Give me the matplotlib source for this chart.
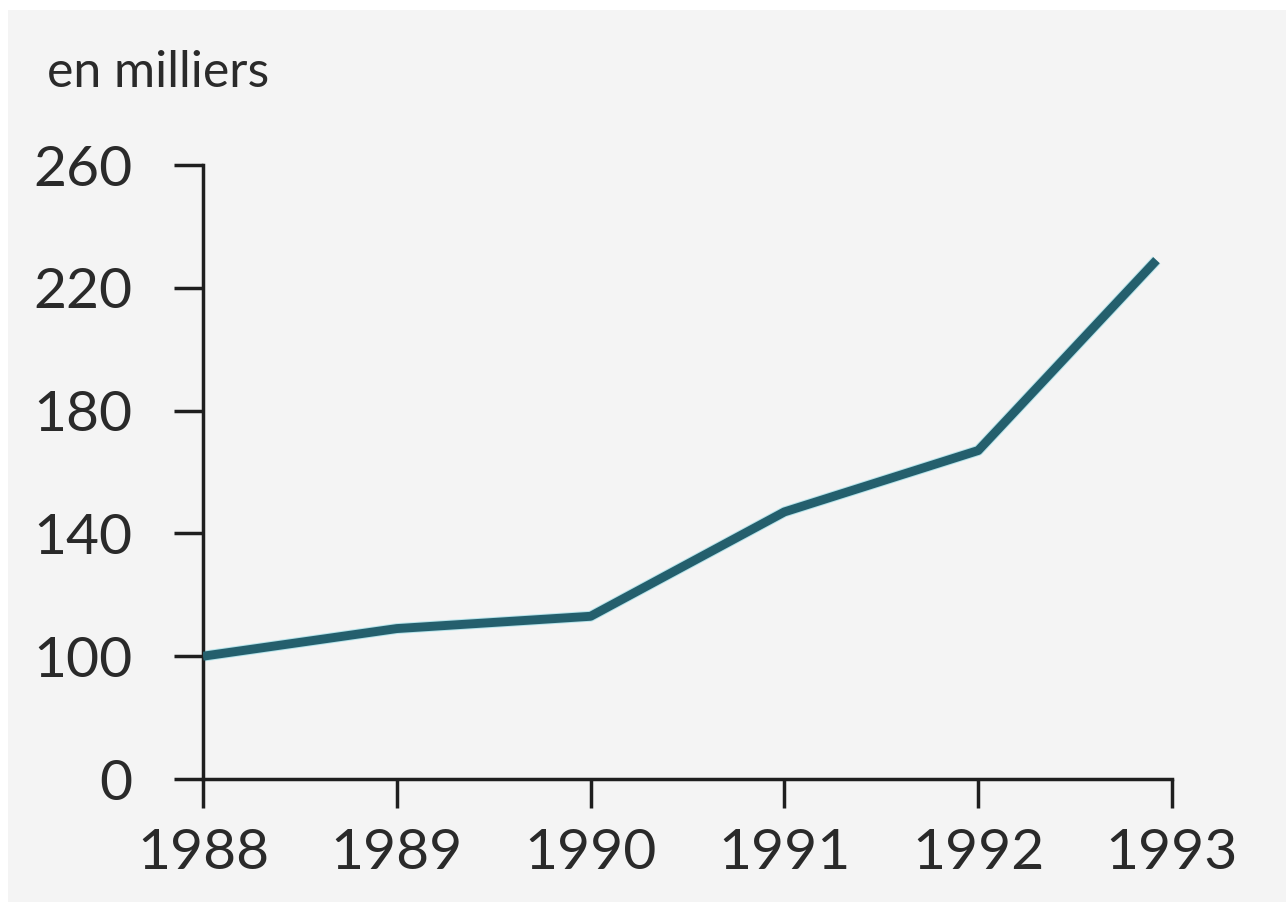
import numpy as np
import matplotlib
matplotlib.use("Agg")
import matplotlib.pyplot as plt
from matplotlib.patches import Rectangle

# data, thousands
years = [1988, 1989, 1990, 1991, 1992, 1992.92]
values = [100, 109, 113, 147, 167, 229]
year_ticks = [1988, 1989, 1990, 1991, 1992, 1993]
y_ticks = [0, 100, 140, 180, 220, 260]

plt.rcParams['font.family'] = ['Lato', 'DejaVu Sans']

# broken scale: 0-100 takes one step, then steps of 40
def fwd(v):
    v = np.asarray(v, dtype=float)
    return np.where(v <= 100, v / 100.0, 1 + (v - 100) / 40.0)

def inv(t):
    t = np.asarray(t, dtype=float)
    return np.where(t <= 1, t * 100.0, 100 + (t - 1) * 40.0)

fig = plt.figure(figsize=(12.86, 9.02), dpi=100, facecolor='white')
fig.patches.append(Rectangle((8 / 1286, 0), 1, 1 - 10 / 902, transform=fig.transFigure,
                             facecolor='#f4f4f4', edgecolor='none', zorder=-5))

ax = fig.add_axes([203 / 1286, 1 - 779 / 902, (1172 - 203) / 1286, (779 - 165) / 902])
ax.set_facecolor('none')
ax.set_zorder(2)
ax.set_yscale('function', functions=(fwd, inv))

ax.plot(years, values, color='#b5e3ea', lw=7.8, solid_capstyle='butt', zorder=2)
ax.plot(years, values, color='#245f6d', lw=6.4, solid_capstyle='butt',
        solid_joinstyle='round', zorder=3)

ax.set_xlim(1988, 1993)
ax.set_ylim(0, 260)
ax.set_xticks(year_ticks)
ax.set_xticklabels([str(y) for y in year_ticks])
ax.set_yticks(y_ticks)
ax.set_yticklabels([str(v) for v in y_ticks])

for s in ['top', 'right']:
    ax.spines[s].set_visible(False)
for s in ['left', 'bottom']:
    ax.spines[s].set_linewidth(2.5)
    ax.spines[s].set_color('#1e1e1e')

ax.tick_params(axis='both', direction='out', length=21, width=2.5, color='#1e1e1e',
               labelsize=41, labelcolor='#2a2a2a')
ax.tick_params(axis='y', pad=30)
ax.tick_params(axis='x', pad=14)

fig.text(47 / 1286, 1 - 87 / 902, "en milliers", fontsize=36, color='#2a2a2a',
         ha='left', va='baseline', zorder=3)

fig.savefig("out.png", dpi=100, facecolor=fig.get_facecolor())
